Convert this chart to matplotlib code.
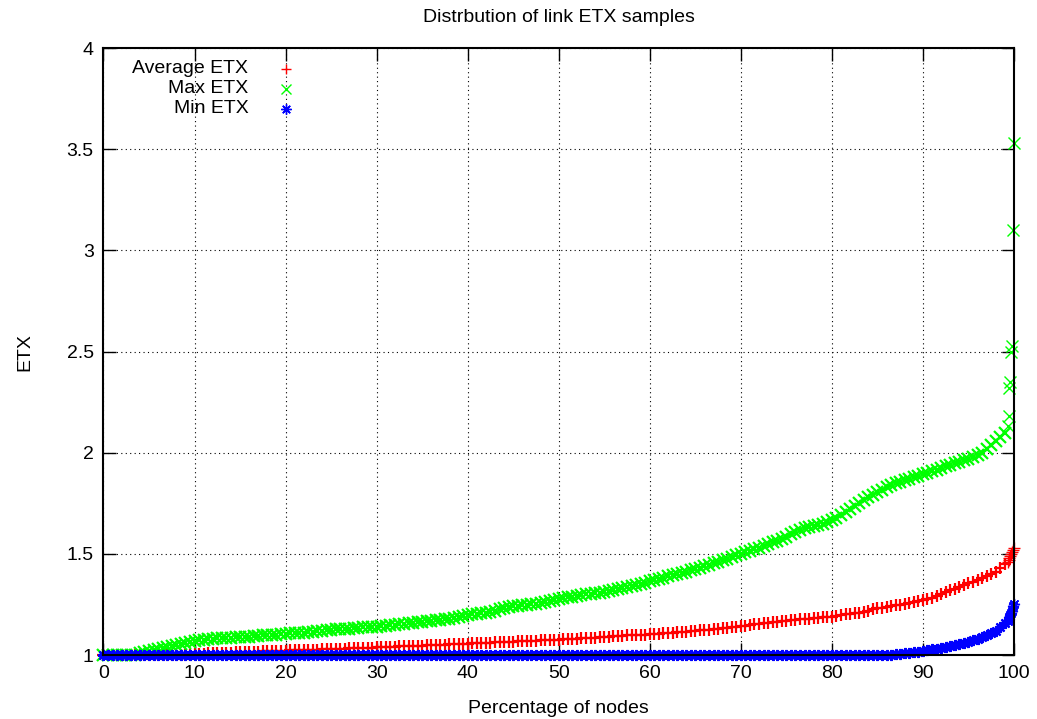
import matplotlib
matplotlib.use("Agg")
import matplotlib.pyplot as plt
import numpy as np

plt.rcParams['font.family'] = ['Liberation Sans', 'DejaVu Sans']

# percentage of nodes, 0.5% steps from 0 to 99, then the sparse tail near 100
pct = list(np.arange(0, 99.5, 0.5))

avg_etx = [1.00] * 20 + [
    1.005, 1.006, 1.007, 1.008, 1.01, 1.01, 1.01, 1.011, 1.012, 1.013,
    1.015, 1.015, 1.015, 1.016, 1.017, 1.018, 1.02, 1.02, 1.02, 1.021,
    1.022, 1.023, 1.024, 1.024, 1.025, 1.026, 1.027, 1.027, 1.028, 1.029,
    1.03, 1.031, 1.032, 1.032, 1.033, 1.034, 1.035, 1.036, 1.037, 1.037,
    1.038, 1.039, 1.04, 1.041, 1.042, 1.043, 1.044, 1.044, 1.045, 1.046,
    1.047, 1.048, 1.049, 1.049, 1.05, 1.051, 1.052, 1.053, 1.054, 1.055,
    1.056, 1.057, 1.058, 1.059, 1.06, 1.061, 1.062, 1.063, 1.064, 1.065,
    1.066, 1.067, 1.068, 1.069, 1.07, 1.071, 1.072, 1.073, 1.074, 1.075,
    1.076, 1.077, 1.078, 1.079, 1.08, 1.082, 1.083, 1.085, 1.086, 1.088,
    1.089, 1.09, 1.092, 1.093, 1.095, 1.097, 1.098, 1.099, 1.10, 1.101,
    1.102, 1.104, 1.105, 1.107, 1.108, 1.11, 1.112, 1.114, 1.116, 1.118,
    1.12, 1.122, 1.124, 1.126, 1.128, 1.13, 1.133, 1.135, 1.138, 1.14,
    1.142, 1.145, 1.148, 1.151, 1.155, 1.157, 1.16, 1.162, 1.165, 1.167,
    1.17, 1.172, 1.174, 1.176, 1.178, 1.18, 1.182, 1.184, 1.186, 1.188,
    1.19, 1.195, 1.20, 1.202, 1.205, 1.207, 1.21, 1.215, 1.22, 1.225,
    1.23, 1.232, 1.235, 1.24, 1.245, 1.247, 1.25, 1.255, 1.26, 1.265,
    1.27, 1.275, 1.28, 1.29, 1.30, 1.31, 1.32, 1.327, 1.335, 1.345,
    1.355, 1.362, 1.37, 1.38, 1.39, 1.40, 1.41, 1.43, 1.45]

max_etx = [
    1.00, 1.00, 1.00, 1.00, 1.00, 1.00, 1.00, 1.00, 1.01, 1.015,
    1.02, 1.025, 1.03, 1.035, 1.04, 1.045, 1.05, 1.055, 1.06, 1.065,
    1.07, 1.072, 1.075, 1.078, 1.08, 1.082, 1.085, 1.085, 1.086, 1.088,
    1.09, 1.09, 1.091, 1.093, 1.095, 1.097, 1.10, 1.10, 1.10, 1.102,
    1.105, 1.107, 1.11, 1.11, 1.11, 1.113, 1.115, 1.117, 1.12, 1.122,
    1.125, 1.128, 1.13, 1.13, 1.13, 1.133, 1.135, 1.137, 1.14, 1.14,
    1.14, 1.143, 1.145, 1.148, 1.15, 1.153, 1.155, 1.158, 1.16, 1.163,
    1.165, 1.168, 1.17, 1.173, 1.175, 1.178, 1.18, 1.185, 1.19, 1.195,
    1.20, 1.202, 1.205, 1.208, 1.21, 1.215, 1.22, 1.225, 1.23, 1.235,
    1.24, 1.243, 1.245, 1.248, 1.25, 1.253, 1.255, 1.26, 1.265, 1.27,
    1.275, 1.28, 1.285, 1.288, 1.29, 1.295, 1.30, 1.303, 1.305, 1.308,
    1.31, 1.315, 1.32, 1.325, 1.33, 1.335, 1.34, 1.345, 1.35, 1.357,
    1.365, 1.37, 1.375, 1.382, 1.39, 1.395, 1.40, 1.405, 1.41, 1.418,
    1.425, 1.432, 1.44, 1.447, 1.455, 1.462, 1.47, 1.477, 1.485, 1.492,
    1.50, 1.507, 1.515, 1.522, 1.53, 1.54, 1.55, 1.557, 1.565, 1.575,
    1.585, 1.597, 1.61, 1.62, 1.63, 1.635, 1.64, 1.645, 1.65, 1.657,
    1.665, 1.677, 1.69, 1.705, 1.72, 1.735, 1.75, 1.765, 1.78, 1.792,
    1.805, 1.817, 1.83, 1.84, 1.85, 1.857, 1.865, 1.872, 1.88, 1.887,
    1.895, 1.902, 1.91, 1.917, 1.925, 1.932, 1.94, 1.947, 1.955, 1.962,
    1.97, 1.98, 1.99, 2.00, 2.02, 2.04, 2.06, 2.08, 2.10]

min_etx = [1.00] * 174 + [
    1.005, 1.007, 1.01, 1.012, 1.015, 1.017, 1.02, 1.025, 1.03, 1.032,
    1.035, 1.04, 1.045, 1.05, 1.055, 1.06, 1.065, 1.072, 1.08, 1.09,
    1.10, 1.11, 1.12, 1.14, 1.16]

tail_pct = [99.3, 99.4, 99.5, 99.6, 99.7, 99.8, 99.9, 100.0]
avg_tail = [1.46, 1.47, 1.48, 1.49, 1.50, 1.51, 1.52, 1.53]
max_tail = [2.13, 2.18, 2.32, 2.35, 2.50, 2.53, 3.10, 3.53]
min_tail = [1.17, 1.18, 1.19, 1.20, 1.21, 1.22, 1.24, 1.25]

fig = plt.figure(figsize=(10.37, 7.19), dpi=100)
ax = fig.add_axes([0.0998, 0.089, 0.878, 0.844])

star = (8, 2, 0)
series = [(avg_etx, avg_tail, '+', '#ff0000'),
          (max_etx, max_tail, 'x', '#00ff00'),
          (min_etx, min_tail, star, '#0000ff')]
for body, tail, mk, col in series:
    # dense part drawn a bit heavier so it reads as a solid band
    ax.plot(pct, body, linestyle='none', marker=mk, color=col,
            markersize=8, markeredgewidth=1.6, clip_on=False)
    ax.plot(tail_pct, tail, linestyle='none', marker=mk, color=col,
            markersize=8, markeredgewidth=1.0, clip_on=False)

ax.set_xlim(0, 100)
ax.set_ylim(1, 4)
ax.set_xticks(range(0, 101, 10))
ax.set_yticks([1, 1.5, 2, 2.5, 3, 3.5, 4])
ax.set_yticklabels(['1', '1.5', '2', '2.5', '3', '3.5', '4'])
ax.tick_params(direction='in', length=9, width=1, top=True, right=True,
               labelsize=14, pad=7)
ax.grid(True, color='black', linestyle=(0, (1, 3)), linewidth=0.8)
for s in ax.spines.values():
    s.set_linewidth(1.5)
    s.set_zorder(3)

ax.set_title('Distrbution of link ETX samples', fontsize=14, pad=19)
ax.set_xlabel('Percentage of nodes', fontsize=14, labelpad=13)
ax.set_ylabel('ETX', fontsize=14, labelpad=24)

# key, gnuplot style: right-aligned text then the marker
labels = ['Average ETX', 'Max ETX', 'Min ETX']
markers = ['+', 'x', star]
colors = ['#ff0000', '#00ff00', '#0000ff']
for i in range(3):
    yk = 0.966 - i * 0.033
    ax.text(0.159, yk, labels[i], transform=ax.transAxes, ha='right',
            va='center', fontsize=14)
    ax.plot([0.2005], [yk], transform=ax.transAxes, marker=markers[i],
            color=colors[i], markersize=7.5, markeredgewidth=1.0,
            linestyle='none')

fig.savefig('out.png', dpi=100)
